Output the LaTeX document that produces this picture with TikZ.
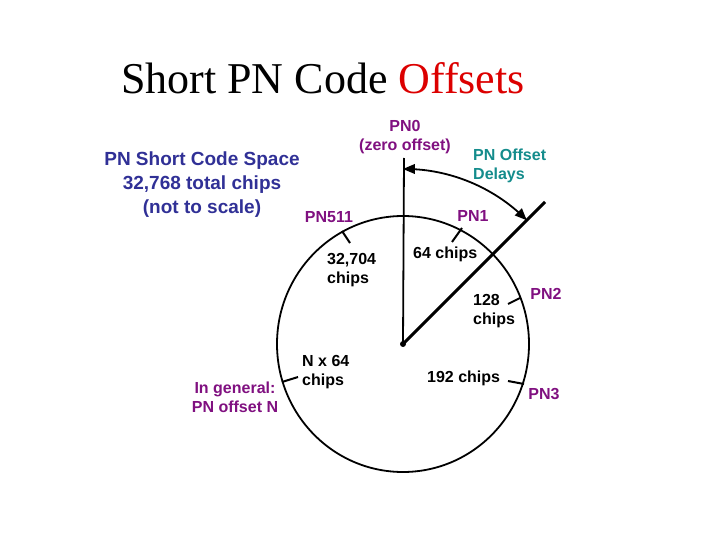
\documentclass[tikz,border=0pt]{standalone}
\usepackage{fontspec}
\setmainfont{Liberation Serif}
\setsansfont{Liberation Sans}
\usepackage{tikz}
\usetikzlibrary{arrows, calc}
\usepackage{xcolor}
\definecolor{pnpurple}{RGB}{128,16,128}
\definecolor{pnblue}{RGB}{48,48,150}
\definecolor{pnteal}{RGB}{20,140,140}
\definecolor{pnred}{RGB}{220,0,0}

\begin{document}
\begin{tikzpicture}[x=1pt, y=-1pt,
	lbl/.style={font=\sffamily\bfseries\fontsize{16}{19}\selectfont, inner sep=0pt},
	pn/.style={lbl, text=pnpurple},
	leader/.style={line width=2pt}]
	\useasboundingbox (0,0) rectangle (720,540);
	\coordinate (O) at (403,344);
	\coordinate (Top) at (404,158);
	\coordinate (Cut) at (545,202);
	\node [font=\fontsize{44}{50}\selectfont, inner sep=0pt] (title) at (323,78) {Short PN Code \textcolor{pnred}{Offsets}};
	\draw [line width=1.8pt] (O) ellipse [x radius=126, y radius=128];
	\draw [line width=1.8pt] (O) -- (Top);
	\draw [line width=3pt] (O) -- (Cut);
	\fill (O) circle (3);
	\draw [line width=1.8pt, triangle 45-triangle 45] ($(O)+(0,-175)$) arc [start angle=-90, end angle=-45, radius=175];
	% labels round the circle
	\node [lbl, text=pnblue, align=center, font=\sffamily\bfseries\fontsize{19}{24}\selectfont] (space) at (202,185) {PN Short Code Space\\32,768 total chips\\(not to scale)};
	\node [pn, align=center] (pn0) at (405,137) {PN0\\(zero offset)};
	\node [lbl, text=pnteal, align=left, anchor=west] (delays) at (473,166) {PN Offset\\Delays};
	\node [pn] (pn511) at (329,217) {PN511};
	\node [pn] (pn1) at (473,216) {PN1};
	\node [pn] (pn2) at (546,294) {PN2};
	\node [pn] (pn3) at (544,394) {PN3};
	\node [pn, align=center] (general) at (235,397) {In general:\\PN offset N};
	\node [lbl, align=left, anchor=west] (c32704) at (327,270) {32,704\\chips};
	\node [lbl, anchor=west] (c64) at (413,254) {64 chips};
	\node [lbl, align=left, anchor=west] (c128) at (473,311) {128\\chips};
	\node [lbl, anchor=west] (c192) at (427,378) {192 chips};
	\node [lbl, align=left, anchor=west] (cN) at (302,372) {N x 64\\chips};
	% leaders to the offsets
	\coordinate (t511) at (342,231);
	\coordinate (t1) at (462,228);
	\coordinate (t2) at (520,298);
	\coordinate (t3) at (524,384);
	\coordinate (tN) at (282,382);
	\draw [leader] (350,243) -- (t511);
	\draw [leader] (452,242) -- (t1);
	\draw [leader] (508,304) -- (t2);
	\draw [leader] (508,381) -- (t3);
	\draw [leader] (298,377) -- (tN);
\end{tikzpicture}
\end{document}
